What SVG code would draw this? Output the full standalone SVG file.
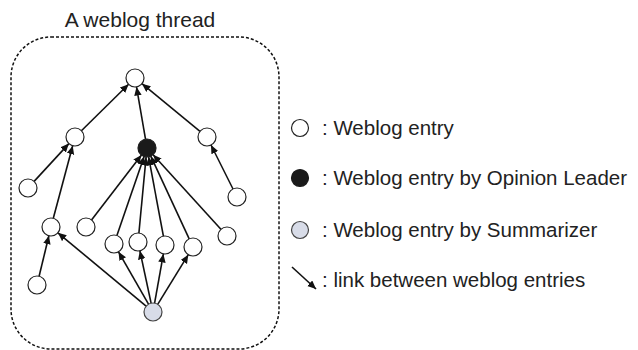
<svg xmlns="http://www.w3.org/2000/svg" width="638" height="350" viewBox="0 0 638 350">
<style>
.n{fill:#fff;stroke:#222;stroke-width:1.2}
.k{fill:#1a1a1a;stroke:#1a1a1a;stroke-width:1.2}
.s{fill:#d8dce8;stroke:#444;stroke-width:1.2}
.e{stroke:#111;stroke-width:1.6;fill:none;marker-end:url(#ah)}
text{font-family:"Liberation Sans",Arial,sans-serif;fill:#222}
.lg{font-size:20.5px}
</style>
<defs>
<marker id="ah" markerUnits="userSpaceOnUse" markerWidth="10" markerHeight="10" refX="8.5" refY="3.75" orient="auto">
<path d="M0,0 L8.5,3.75 L0,7.5 z" fill="#111"/>
</marker>
</defs>
<rect x="11" y="37" width="268" height="312" rx="40" ry="40" fill="none" stroke="#111" stroke-width="1.5" stroke-dasharray="3,2"/>
<text x="140" y="27" font-size="21" text-anchor="middle">A weblog thread</text>
<g id="connectors">
<line class="e" x1="81.4" y1="130.7" x2="128.6" y2="84.3"/>
<line class="e" x1="145.5" y1="139.1" x2="136.5" y2="86.9"/>
<line class="e" x1="200" y1="131.3" x2="142" y2="83.7"/>
<line class="e" x1="34.1" y1="181.4" x2="68.9" y2="143.6"/>
<line class="e" x1="53.3" y1="218.3" x2="72.7" y2="145.7"/>
<line class="e" x1="39.1" y1="276.3" x2="48.9" y2="235.7"/>
<line class="e" x1="146.1" y1="306.2" x2="57.9" y2="232.8"/>
<line class="e" x1="148.5" y1="304.2" x2="118.5" y2="251.8"/>
<line class="e" x1="151.1" y1="303.2" x2="139.9" y2="250.8"/>
<line class="e" x1="154.6" y1="303.1" x2="163.4" y2="253.9"/>
<line class="e" x1="157.7" y1="304.3" x2="188.3" y2="254.7"/>
<line class="e" x1="233" y1="189" x2="211" y2="145"/>
<line class="e" x1="91.5" y1="219.9" x2="141.5" y2="155.1"/>
<line class="e" x1="116.9" y1="235.5" x2="144.1" y2="156.5"/>
<line class="e" x1="138.9" y1="233" x2="146.1" y2="157"/>
<line class="e" x1="163.4" y1="236.2" x2="148.6" y2="156.8"/>
<line class="e" x1="189.2" y1="238.8" x2="150.8" y2="156.2"/>
<line class="e" x1="220.9" y1="229.3" x2="153.1" y2="154.7"/>
</g>
<g id="root"><circle class="n" cx="135" cy="78" r="9"/></g>
<g id="l1"><circle class="n" cx="75" cy="137" r="9"/></g>
<g id="r1"><circle class="n" cx="207" cy="137" r="9"/></g>
<g id="leader"><circle class="k" cx="147" cy="148" r="9"/></g>
<g id="a"><circle class="n" cx="28" cy="188" r="9"/></g>
<g id="b"><circle class="n" cx="51" cy="227" r="9"/></g>
<g id="c"><circle class="n" cx="86" cy="227" r="9"/></g>
<g id="d"><circle class="n" cx="114" cy="244" r="9"/></g>
<g id="e"><circle class="n" cx="138" cy="242" r="9"/></g>
<g id="h"><circle class="n" cx="165" cy="245" r="9"/></g>
<g id="i"><circle class="n" cx="193" cy="247" r="9"/></g>
<g id="g"><circle class="n" cx="227" cy="236" r="9"/></g>
<g id="f"><circle class="n" cx="237" cy="197" r="9"/></g>
<g id="j"><circle class="n" cx="37" cy="285" r="9"/></g>
<g id="summarizer"><circle class="s" cx="153" cy="312" r="9"/></g>
<g id="legend">
<circle class="n" cx="300" cy="128" r="8.5"/>
<text class="lg" x="322" y="135">: Weblog entry</text>
<circle class="k" cx="300" cy="178" r="8.5"/>
<text class="lg" x="322" y="185">: Weblog entry by Opinion Leader</text>
<circle class="s" cx="300" cy="230" r="8.5"/>
<text class="lg" x="322" y="237">: Weblog entry by Summarizer</text>
<line class="e" x1="292" y1="267" x2="316" y2="289"/>
<text class="lg" x="322" y="287">: link between weblog entries</text>
</g>
</svg>
